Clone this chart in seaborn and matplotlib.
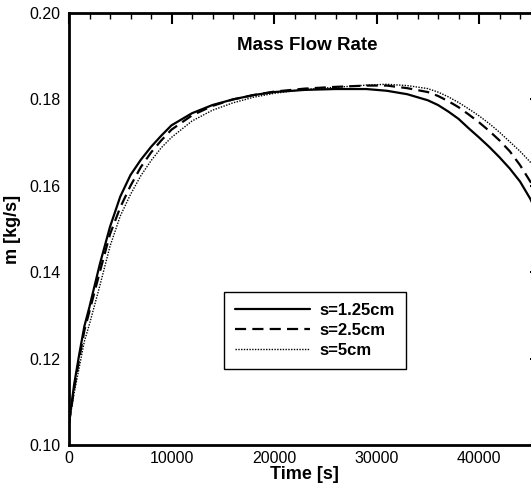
import matplotlib
matplotlib.use("Agg")
import matplotlib.pyplot as plt
import seaborn as sns
import pandas as pd
from matplotlib.ticker import MultipleLocator

sns.set_theme(style="white")
plt.rcParams['font.family'] = ['Liberation Sans', 'DejaVu Sans']

time_s = [0, 500, 1000, 1500, 2000, 3000, 4000, 5000, 6000, 7000, 8000, 9000, 10000,
          12000, 14000, 16000, 18000, 20000, 23000, 26000, 29000, 31000, 33000, 35000,
          36000, 37000, 38000, 39000, 40000, 41000, 42000, 43000, 44000, 45000, 46000]
m_125 = [0.105, 0.114, 0.121, 0.1275, 0.132, 0.1418, 0.1505, 0.1575, 0.1625, 0.1660,
         0.1690, 0.1716, 0.1740, 0.1768, 0.1787, 0.1800, 0.1810, 0.1817, 0.1822, 0.1824,
         0.1824, 0.1820, 0.1812, 0.1798, 0.1787, 0.1772, 0.1755, 0.1733, 0.1712, 0.1690,
         0.1666, 0.1640, 0.1610, 0.1570, 0.1520]
m_25 = [0.105, 0.113, 0.120, 0.1265, 0.131, 0.1400, 0.1488, 0.1550, 0.1600, 0.1643,
        0.1677, 0.1705, 0.1730, 0.1763, 0.1785, 0.1800, 0.1810, 0.1818, 0.1825, 0.1829,
        0.1832, 0.1832, 0.1826, 0.1817, 0.1808, 0.1796, 0.1782, 0.1765, 0.1747, 0.1727,
        0.1705, 0.1680, 0.1648, 0.1610, 0.1570]
m_5 = [0.105, 0.112, 0.118, 0.124, 0.128, 0.1368, 0.1460, 0.1530, 0.1580, 0.1623,
       0.1658, 0.1688, 0.1712, 0.1750, 0.1775, 0.1792, 0.1805, 0.1814, 0.1823, 0.1828,
       0.1833, 0.1835, 0.1832, 0.1825, 0.1817, 0.1806, 0.1793, 0.1778, 0.1762, 0.1744,
       0.1724, 0.1702, 0.1680, 0.1655, 0.1625]
labels = ["s=1.25cm", "s=2.5cm", "s=5cm"]

df = pd.concat([
    pd.DataFrame({"t": time_s, "m": m_125, "case": labels[0]}),
    pd.DataFrame({"t": time_s, "m": m_25, "case": labels[1]}),
    pd.DataFrame({"t": time_s, "m": m_5, "case": labels[2]}),
])

fig = plt.figure(figsize=(5.31, 4.90), dpi=100)
ax = fig.add_axes([69/531, 45/490, 471.5/531, 432/490])

styles = {labels[0]: dict(ls='-', lw=1.6), labels[1]: dict(ls=(0, (5, 2.8)), lw=1.6),
          labels[2]: dict(ls=(0, (1, 1)), lw=1.0)}
for lab in labels:
    sns.lineplot(data=df[df["case"] == lab], x="t", y="m", ax=ax, color='black',
                 label=lab, **styles[lab])

ax.set_xlim(0, 46000)
ax.set_ylim(0.10, 0.20)
ax.xaxis.set_major_locator(MultipleLocator(10000))
ax.xaxis.set_minor_locator(MultipleLocator(2000))
ax.yaxis.set_major_locator(MultipleLocator(0.02))
ax.yaxis.set_minor_locator(MultipleLocator(0.005))
ax.yaxis.set_major_formatter(matplotlib.ticker.FormatStrFormatter('%.2f'))
ax.tick_params(which='both', direction='in', top=True, right=True, colors='black',
               labelsize=11.5)
ax.tick_params(axis='y', pad=6)
ax.tick_params(axis='x', pad=4)
ax.tick_params(which='major', length=8, width=1.5)
ax.tick_params(which='minor', length=4.5, width=1.0)
for s in ax.spines.values():
    s.set_color('black')
    s.set_linewidth(2)

ax.set_xlabel("Time [s]", fontsize=13, fontweight='bold', labelpad=0, color='black')
ax.set_ylabel("m [kg/s]", fontsize=13, fontweight='bold', labelpad=6, color='black')
ax.text(0.505, 0.924, "Mass Flow Rate", transform=ax.transAxes, ha='center', va='center',
        fontsize=13.5, fontweight='bold', color='black')

leg = ax.legend(loc='upper left', bbox_to_anchor=(0.329, 0.354), borderaxespad=0,
                fancybox=False, edgecolor='black', framealpha=1, handlelength=4.5,
                prop={'weight': 'bold', 'size': 12}, labelspacing=0.3, borderpad=0.65,
                handletextpad=0.6)
leg.get_frame().set_linewidth(1.0)
for txt in leg.get_texts():
    txt.set_color('black')

fig.savefig("out.png", dpi=100)
